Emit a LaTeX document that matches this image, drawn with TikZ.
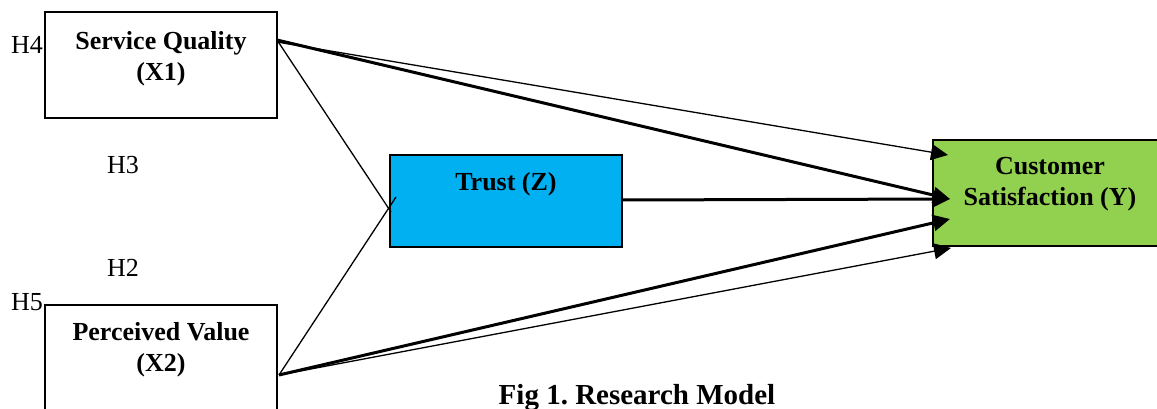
\documentclass[tikz,border=0pt]{standalone}
\usepackage{fontspec}
\setmainfont{Liberation Serif}
\usetikzlibrary{arrows.meta}
\definecolor{trustblue}{HTML}{00B0F0}
\definecolor{satgreen}{HTML}{92D050}
\frenchspacing
\begin{document}
\begin{tikzpicture}[x=1pt,y=-1pt,>={Triangle[length=17pt,width=16pt]},
  box/.style={draw,line width=2.5pt},
  boxtext/.style={font=\fontsize{26}{31}\selectfont\bfseries,align=center,inner sep=0pt},
  hyp/.style={font=\fontsize{26}{31}\selectfont,inner sep=0pt},
  thin/.style={line width=1.3pt},
  thick/.style={line width=3pt}]
  \useasboundingbox (0,0) rectangle (1157,409);
  \clip (0,0) rectangle (1157,409);
  % boxes
  \draw[box] (45,12) rectangle (277,118);
  \coordinate (sq) at (277,42);
  \draw[box] (45,305) rectangle (277,460);
  \coordinate (pv) at (279,375);
  \draw[box,fill=trustblue] (390,155) rectangle (622,247);
  \coordinate (tz) at (622,200);
  \draw[box,fill=satgreen] (933,140) rectangle (1170,246);
  \node[boxtext] (sqt) at (161,59) {Service Quality\\(X1)};
  \node[boxtext] (pvt) at (161,350) {Perceived Value\\(X2)};
  \node[boxtext] (tzt) at (506,184) {Trust (Z)};
  \node[boxtext] (cst) at (1050,184) {Customer\\Satisfaction (Y)};
  % hypotheses
  \node[hyp] (h4) at (27,45) {H4};
  \node[hyp] (h3) at (123,165) {H3};
  \node[hyp] (h2) at (123,268) {H2};
  \node[hyp] (h5) at (27,302) {H5};
  % paths
  \coordinate (a1) at (948,155);
  \coordinate (a2) at (950,199);
  \coordinate (a3) at (950,219);
  \coordinate (a4) at (951,248);
  \coordinate (m1) at (391,212);
  \coordinate (m2) at (396,197);
  \draw[thin,->] (sq) -- (a1);
  \draw[thick,->] ([yshift=2pt]sq) -- (a2);
  \draw[thick,->] (tz) -- (a2);
  \draw[thick,->] (pv) -- (a3);
  \draw[thin,->] (pv) -- (a4);
  \draw[thin] ([yshift=2pt]sq) -- (m1);
  \draw[thin] (pv) -- (m2);
  \node[font=\fontsize{29}{33}\selectfont\bfseries] (cap) at (637,398) {Fig 1. Research Model};
\end{tikzpicture}
\end{document}
